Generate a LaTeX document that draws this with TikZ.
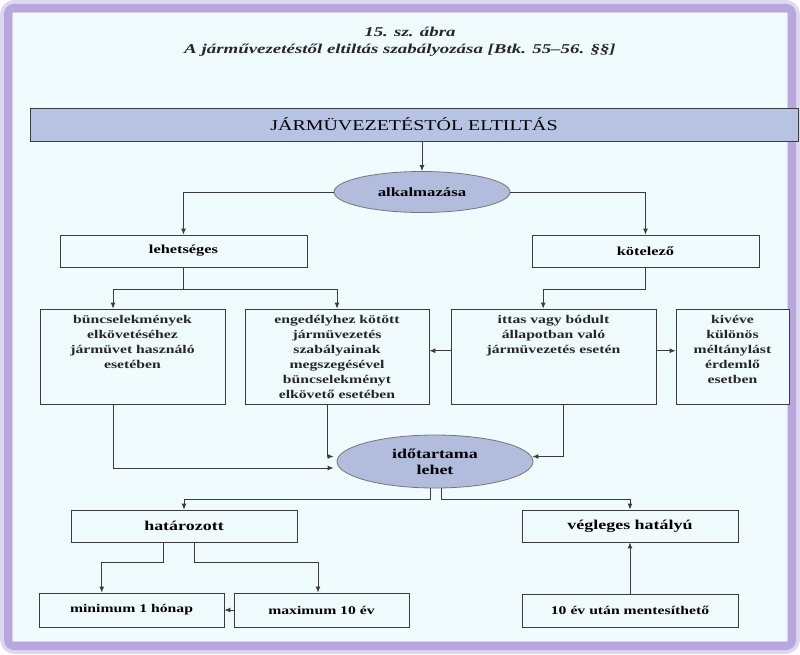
\documentclass[tikz,border=0pt]{standalone}
\usepackage{fontspec}
\setmainfont{Liberation Serif}
\newfontfamily\wser[FakeStretch=1.33]{Liberation Serif}
\newfontfamily\tser[FakeStretch=1.4]{Liberation Serif}
\usetikzlibrary{arrows.meta,calc,shapes.geometric}
\definecolor{bgc}{RGB}{240,251,253}
\definecolor{framec}{RGB}{184,166,222}
\definecolor{barc}{RGB}{182,195,226}
\definecolor{ellc}{RGB}{178,189,222}
\definecolor{linec}{RGB}{60,60,60}
\tikzset{
  box/.style={draw=linec, line width=0.8pt, fill=bgc, rectangle, inner sep=0pt},
  ell/.style={draw=linec!70, line width=0.8pt, fill=ellc, ellipse, inner sep=0pt},
  btxt/.style={font=\wser\bfseries\fontsize{11.8}{15}\selectfont, align=center, text=black!85, inner sep=0pt},
  ttl/.style={font=\tser\bfseries\itshape\fontsize{13.5}{16}\selectfont, inner sep=0pt, text=black!85},
  conn/.style={draw=linec, line width=0.9pt},
  arr/.style={conn, -{Latex[length=6pt,width=5pt]}},
}
\begin{document}
\begin{tikzpicture}[x=1pt,y=-1pt]
\useasboundingbox (0,0) rectangle (800,654);
% frame
\fill[white] (0,0) rectangle (800,654);
\draw[framec!45, line width=14pt, rounded corners=8pt] (7,7) rectangle (793,647);
\draw[framec, line width=8pt, rounded corners=6pt] (8,8) rectangle (792,646);
\fill[bgc] (13,13) rectangle (787,641);
% title
\node[ttl] (t1) at (410,32) {15. sz. ábra};
\node[ttl] (t2) at (400,50) {A járművezetéstől eltiltás szabályozása [Btk. 55–56. §§]};
% top bar
\node[box, fill=barc, minimum width=768pt, minimum height=33pt, font=\wser\fontsize{15}{18}\selectfont] (bar) at (414,124.5) {JÁRMÜVEZETÉSTÓL ELTILTÁS};
% ellipse 1
\node[ell, minimum width=176pt, minimum height=41pt, font=\wser\bfseries\fontsize{12.6}{16}\selectfont] (e1) at (422,192) {alkalmazása};
% level 2
\node[box, minimum width=247pt, minimum height=32pt, font=\wser\bfseries\fontsize{12.3}{15}\selectfont] (leh) at (183.5,251) {lehetséges};
\node[box, minimum width=227pt, minimum height=32pt, font=\wser\bfseries\fontsize{12.3}{15}\selectfont] (kot) at (645.5,251) {kötelező};
% level 3 boxes
\node[box, minimum width=185pt, minimum height=95pt] (b1) at (132.5,356.5) {};
\node[box, minimum width=184pt, minimum height=95pt] (b2) at (337,356.5) {};
\node[box, minimum width=205pt, minimum height=95pt] (b3) at (553.5,356.5) {};
\node[box, minimum width=113pt, minimum height=95pt] (b4) at (732.5,356.5) {};
\node[btxt, anchor=north] (b1t) at ($(b1.north)+(0,6)$) {büncselekmények\\elkövetéséhez\\jármüvet használó\\esetében};
\node[btxt, anchor=north] (b2t) at ($(b2.north)+(0,6)$) {engedélyhez kötött\\jármüvezetés\\szabályainak\\megszegésével\\büncselekményt\\elkövető esetében};
\node[btxt, anchor=north] (b3t) at ($(b3.north)+(0,6)$) {ittas vagy bódult\\állapotban való\\jármüvezetés esetén};
\node[btxt, anchor=north] (b4t) at ($(b4.north)+(0,6)$) {kivéve\\különös\\méltánylást\\érdemlő\\esetben};
% ellipse 2
\node[ell, minimum width=196pt, minimum height=53pt, align=center, font=\wser\bfseries\fontsize{13.5}{16}\selectfont] (e2) at (435,461.5) {időtartama\\lehet};
% level 4
\node[box, minimum width=226pt, minimum height=32pt, font=\wser\bfseries\fontsize{13.5}{16}\selectfont] (hat) at (184,526) {határozott};
\node[box, minimum width=216pt, minimum height=32pt, font=\wser\bfseries\fontsize{13.5}{16}\selectfont] (veg) at (630,526) {végleges hatályú};
% level 5
\node[box, minimum width=185pt, minimum height=34pt, font=\wser\bfseries\fontsize{11.8}{15}\selectfont] (min) at (131.5,610) {minimum 1 hónap};
\node[box, minimum width=175pt, minimum height=34pt, font=\wser\bfseries\fontsize{11.8}{15}\selectfont] (max) at (321.5,610) {maximum 10 év};
\node[box, minimum width=216pt, minimum height=33pt, font=\wser\bfseries\fontsize{11.8}{15}\selectfont] (ten) at (630,610.5) {10 év után mentesíthető};
% connectors
\draw[arr] (bar.south -| e1.north) -- (e1.north);
\draw[arr] (e1.west) -| (leh.north);
\draw[arr] (e1.east) -| (kot.north);
\draw[arr] (leh.south) -- ++(0,22) -| ($(b1.north west)!0.395!(b1.north east)$);
\draw[arr] (leh.south) -- ++(0,22) -| (b2.north);
\draw[arr] (kot.south) -- ++(0,22) -| ($(b3.north west)!0.45!(b3.north east)$);
\coordinate (m3l) at ($(b3.north west)!0.44!(b3.south west)$);
\coordinate (m3r) at ($(b3.north east)!0.44!(b3.south east)$);
\draw[arr] (m3l) -- (m3l -| b2.east);
\draw[arr] (m3r) -- (m3r -| b4.west);
\draw[arr] ($(b1.south west)!0.395!(b1.south east)$) |- ($(e2.west)+(-3,6.5)$);
\draw[arr] ($(b2.south west)!0.446!(b2.south east)$) |- ($(e2.west)+(-3,-5)$);
\draw[arr] ($(b3.south west)!0.55!(b3.south east)$) |- ($(e2.east)+(-1,-5)$);
\draw[arr] ($(e2.south)+(-5,0)$) -- ++(0,11) -| (hat.north);
\draw[arr] ($(e2.south)+(6,0)$) -- ++(0,11) -| (veg.north);
\draw[arr] ($(hat.south)+(-21,0)$) -- ++(0,20) -| ($(min.north west)!0.34!(min.north east)$);
\draw[arr] ($(hat.south)+(10,0)$) -- ++(0,20) -| ($(max.north west)!0.48!(max.north east)$);
\draw[arr] (max.west) -- (min.east);
\draw[arr] (ten.north) -- (veg.south);
\end{tikzpicture}
\end{document}
